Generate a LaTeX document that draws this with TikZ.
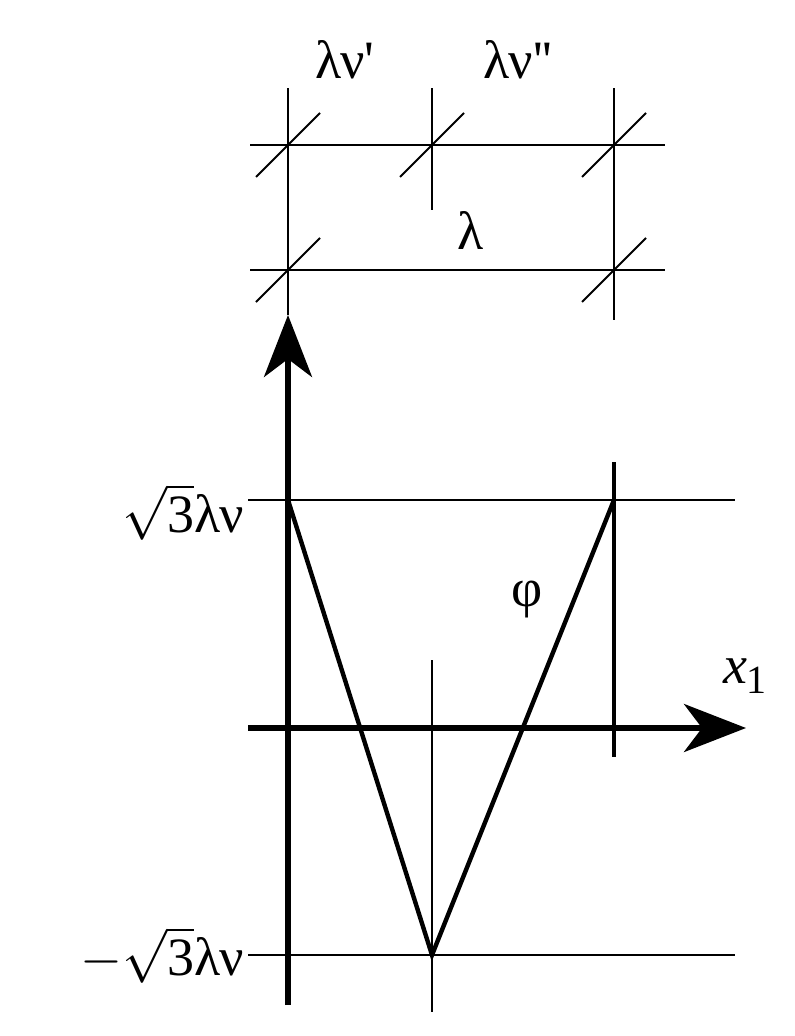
\documentclass[tikz,border=0pt]{standalone}
\usepackage{fix-cm}
\usepackage{fontspec}
\setmainfont{Liberation Serif}
\usetikzlibrary{arrows.meta}
\begin{document}
\begin{tikzpicture}[x=1pt,y=-1pt,
 thin line/.style={line width=2.2pt},
 thick line/.style={line width=5.4pt},
 tick/.style={line width=2pt},
 lab/.style={font=\fontsize{54}{58}\selectfont, inner sep=0pt},
 arr/.style={-{Stealth[length=62pt,width=48pt,inset=18pt]}}]
\useasboundingbox (0,0) rectangle (795,1036);
% dimension lines
\coordinate (a1) at (288,88); \coordinate (a2) at (288,315);
\coordinate (b1) at (432,88); \coordinate (b2) at (432,210);
\coordinate (c1) at (614,88); \coordinate (c2) at (614,320);
\draw[thin line] (a1)--(a2) (b1)--(b2) (c1)--(c2);
\coordinate (h1l) at (250,145); \coordinate (h1r) at (665,145);
\coordinate (h2l) at (250,270); \coordinate (h2r) at (665,270);
\draw[thin line] (h1l)--(h1r) (h2l)--(h2r);
\foreach \x/\y in {288/145,432/145,614/145,288/270,614/270}
  \draw[tick] (\x-32,\y+32)--(\x+32,\y-32);
% labels
\node[lab] (l1) at (345,60) {λν\textquotesingle};
\node[lab] (l2) at (518,60) {λν\textquotesingle\textquotesingle};
\node[lab] (l3) at (471,230) {λ};
% horizontal reference lines
\coordinate (r1l) at (248,500); \coordinate (r1r) at (735,500);
\coordinate (r2l) at (248,955); \coordinate (r2r) at (735,955);
\draw[thin line] (r1l)--(r1r) (r2l)--(r2r);
% verticals
\coordinate (v1t) at (432,660); \coordinate (v1b) at (432,1012);
\coordinate (v2t) at (614,462); \coordinate (v2b) at (614,757);
\draw[thin line] (v1t)--(v1b);
\draw[line width=3.2pt] (v2t)--(v2b);
% axes
\coordinate (yb) at (288,1005); \coordinate (yt) at (288,315);
\draw[thick line,arr] (yb)--(yt);
\coordinate (xl) at (248,728); \coordinate (xr) at (746,728);
\draw[thick line,arr] (xl)--(xr);
% V shape
\coordinate (p1) at (288,500); \coordinate (p2) at (432,955); \coordinate (p3) at (614,500);
\draw[line width=4.4pt,line join=miter] (p1)--(p2)--(p3);
% labels
\node[lab,anchor=east] (s1) at (244,512) {$\sqrt{\mbox{3}}$λν};
\node[lab,anchor=east] (s2) at (244,955) {$-\sqrt{\mbox{3}}$λν};
\node[lab] (phi) at (527,600) {φ};
\node[lab] (x1) at (745,676) {\itshape x\upshape\raisebox{-10pt}{\fontsize{40}{42}\selectfont 1}};
\end{tikzpicture}
\end{document}
